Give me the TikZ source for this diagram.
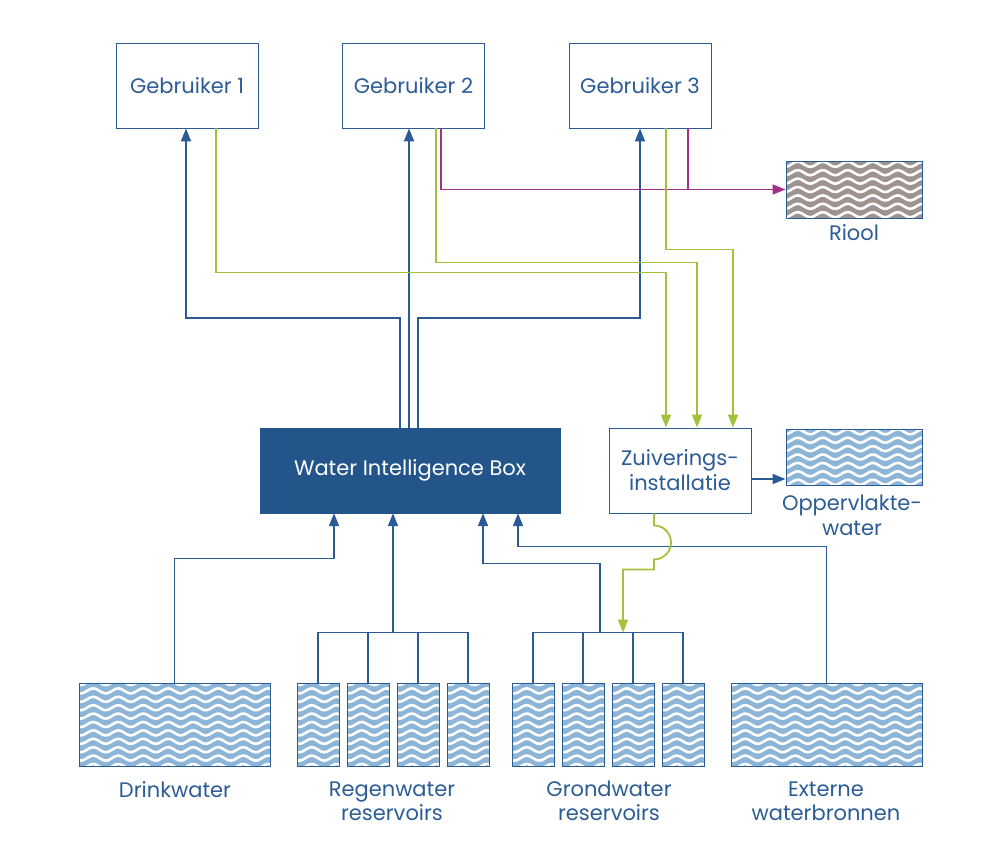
\documentclass[tikz,border=0pt]{standalone}
\usepackage{fontspec}
\setmainfont{Poppins}
\usetikzlibrary{arrows.meta,calc}
\definecolor{bline}{HTML}{2A5B94}
\definecolor{wibfill}{HTML}{23558A}
\definecolor{gline}{HTML}{A3C13B}
\definecolor{mline}{HTML}{A3318A}
\definecolor{wblue}{HTML}{8DB5D8}
\definecolor{wgrey}{HTML}{9D948F}
\definecolor{txt}{HTML}{2B5C96}
\begin{document}
\begin{tikzpicture}[x=1pt,y=-1pt,
  every node/.style={font=\fontsize{21}{25}\selectfont, text=txt},
  userbox/.style={draw=bline, line width=0.9pt, minimum width=142pt, minimum height=85pt, inner sep=0pt, align=center},
  wavebox/.style={draw=bline, line width=1pt, fill=#1, inner sep=0pt,
    path picture={
        \foreach \r in {-6,...,6}{
          \draw[white, line width=2.6pt] plot[domain=-105:105, samples=90, smooth] (\x, {\r*8.4+2.5*sin(\x*14.4)});
        }}},
  lbl/.style={align=center, inner sep=0pt},
  tip/.style={-{Triangle[length=13pt,width=10pt]}},
  flow/.style={draw=bline, line width=1.8pt, tip},
  pline/.style={draw=bline, line width=1.8pt},
  gflow/.style={draw=gline, line width=1.8pt, tip},
  mflow/.style={draw=mline, line width=1.8pt, tip},
  mline/.style={draw=mline, line width=1.8pt}]
\useasboundingbox (0,0) rectangle (1000,860);

% users
\node[userbox] (g1) at (187,85.5) {Gebruiker 1};
\node[userbox] (g2) at (413.5,85.5) {Gebruiker 2};
\node[userbox] (g3) at (640,85.5) {Gebruiker 3};

% riool
\node[wavebox=wgrey, minimum width=136pt, minimum height=57pt] (riool) at (854,189.5) {};
\node[lbl] (rioollbl) at (854,233) {Riool};

% central box
\node[draw=wibfill, fill=wibfill, minimum width=300pt, minimum height=85pt, inner sep=0pt, text=white] (wib) at (410,470.5) {Water Intelligence Box};

% treatment
\node[userbox] (zuiv) at (680,470.5) {Zuiverings-\\installatie};
\node[wavebox=wblue, minimum width=136pt, minimum height=56pt] (opp) at (854,457) {};
\node[lbl] (opplbl) at (852,515) {Oppervlakte-\\water};

% sources
\node[wavebox=wblue, minimum width=191pt, minimum height=83pt] (drink) at (174.5,724.5) {};
\node[lbl] (drinklbl) at (175,790) {Drinkwater};
\foreach \i/\x in {1/318,2/368,3/418,4/468}{
  \node[wavebox=wblue, minimum width=42pt, minimum height=83pt] (rw\i) at (\x,724.5) {};
}
\node[lbl] (rwlbl) at (392,801) {Regenwater\\[-1pt]reservoirs};
\foreach \i/\x in {1/533,2/583,3/633,4/683}{
  \node[wavebox=wblue, minimum width=42pt, minimum height=83pt] (gw\i) at (\x,724.5) {};
}
\node[lbl] (gwlbl) at (609,801) {Grondwater\\[-1pt]reservoirs};
\node[wavebox=wblue, minimum width=191pt, minimum height=83pt] (ext) at (826.5,724.5) {};
\node[lbl] (extlbl) at (826,801) {Externe\\[-1pt]waterbronnen};

% WIB -> users
\draw[flow] ([xshift=-10]wib.north) -- ++(0,-110) -| ([xshift=-1]g1.south);
\draw[flow] ([xshift=-1]wib.north) -- ([xshift=-4.5]g2.south);
\draw[flow] ([xshift=8]wib.north) -- ++(0,-110) -| (g3.south);

% users -> riool (magenta)
\draw[mflow] ([xshift=27.5]g2.south) |- (riool.west);
\coordinate (m3) at ([xshift=48]g3.south);
\draw[mline] (m3) -- (m3 |- riool.west);

% users -> zuivering (green)
\draw[gflow] ([xshift=29]g1.south) -- ++(0,144) -| ([xshift=-14]zuiv.north);
\draw[gflow] ([xshift=22.5]g2.south) -- ++(0,134) -| ([xshift=17]zuiv.north);
\draw[gflow] ([xshift=26]g3.south) -- ++(0,121) -| ([xshift=53]zuiv.north);

% zuivering -> oppervlaktewater
\coordinate (zo) at ([yshift=-8.5]zuiv.east);
\draw[flow] (zo) -- (zo -| opp.west);

% sources -> WIB
\draw[flow] (drink.north) -- ++(0,-124) -| ([xshift=-76]wib.south);

\draw[pline] (rw1.north) -- ++(0,-50) -| (rw4.north);
\draw[pline] (rw2.north) -- ++(0,-50);
\draw[pline] (rw3.north) -- ++(0,-50);
\coordinate (rbus) at ($(rw2.north)!0.5!(rw3.north)+(0,-50)$);
\draw[flow] (rbus) -- (rbus |- wib.south);

\draw[pline] (gw1.north) -- ++(0,-50) -| (gw4.north);
\draw[pline] (gw2.north) -- ++(0,-50);
\draw[pline] (gw3.north) -- ++(0,-50);
\coordinate (gbus) at ($(gw2.north)!0.34!(gw3.north)+(0,-50)$);
\draw[flow] (gbus) -- ++(0,-69) -| ([xshift=73]wib.south);

\draw[flow] (ext.north) -- ++(0,-136) -| ([xshift=108]wib.south);

% zuivering -> grondwater (with hop)
\draw[gflow] ([xshift=-26]zuiv.south) -- ++(0,12) arc (-90:90:17) -- ++(0,10) -| ($(gbus)+(23,0)$);
\end{tikzpicture}
\end{document}
